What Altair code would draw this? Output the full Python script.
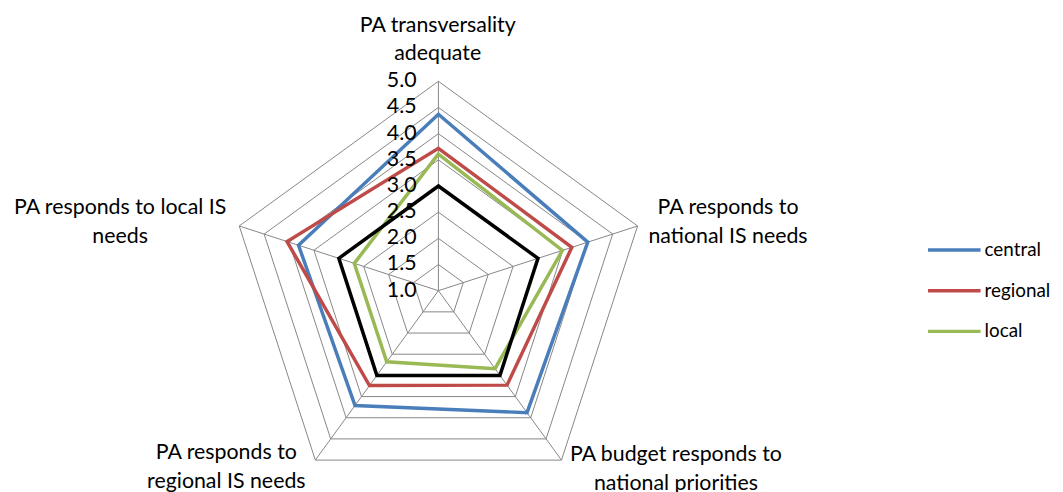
import altair as alt
import pandas as pd

# ---- data ----
categories = [
    "PA transversality adequate",
    "PA responds to national IS needs",
    "PA budget responds to national priorities",
    "PA responds to regional IS needs",
    "PA responds to local IS needs",
]
label_lines = [
    ["PA transversality", "adequate"],
    ["PA responds to", "national IS needs"],
    ["PA budget responds to", "national priorities"],
    ["PA responds to", "regional IS needs"],
    ["PA responds to local IS", "needs"],
]
series_names = ["central", "regional", "local"]
central = [4.37, 4.00, 3.88, 3.71, 3.81]
regional = [3.72, 3.68, 3.23, 3.24, 4.04]
local = [3.61, 3.49, 2.84, 2.68, 2.69]
reference = [3.0, 3.0, 3.0, 3.0, 3.0]
levels = [1.5, 2.0, 2.5, 3.0, 3.5, 4.0, 4.5, 5.0]
tick_labels = ["1.0", "1.5", "2.0", "2.5", "3.0", "3.5", "4.0", "4.5", "5.0"]

colors = ["#4A7EBB", "#BE4B48", "#98B954"]
FONT = "Lato"
FS = 21.5

# ---- layout ----
W, H = 1055, 484
PX = 52.75  # pixels per unit
cx_px, cy_px = 441.7 - 8, 291 - 8
xdom = [-cx_px / PX, (W - cx_px) / PX]
ydom = [-(H - cy_px) / PX, cy_px / PX]
MIN = 1.0
N = len(categories)

xs = alt.Scale(domain=xdom, nice=False, zero=False)
ys = alt.Scale(domain=ydom, nice=False, zero=False)
X = lambda f: alt.X(f, type="quantitative", scale=xs, axis=None)
Y = lambda f: alt.Y(f, type="quantitative", scale=ys, axis=None)

ang = f"datum.i * 2 * PI / {N}"
calc_x = f"(datum.v - {MIN}) * sin({ang})"
calc_y = f"(datum.v - {MIN}) * cos({ang})"

# grid rings
grid_df = pd.DataFrame([{"lvl": l, "i": i, "v": l} for l in levels for i in range(N)])
rings = alt.Chart(grid_df).mark_line(
    interpolate="linear-closed", color="#868686", strokeWidth=1
).transform_calculate(x=calc_x, y=calc_y).encode(
    x=X("x"), y=Y("y"), detail="lvl:N", order="i:Q"
)

# spokes
spoke_df = pd.DataFrame({"i": list(range(N)), "v": [max(levels)] * N})
spokes = alt.Chart(spoke_df).mark_rule(color="#868686", strokeWidth=1).transform_calculate(
    x=calc_x, y=calc_y, x0="0", y0="0"
).encode(x=X("x0"), y=Y("y0"), x2="x:Q", y2="y:Q")

# tick labels
tick_df = pd.DataFrame({"t": tick_labels, "v": [float(t) for t in tick_labels]})
ticks = alt.Chart(tick_df).mark_text(
    align="right", baseline="middle", dx=-22, font=FONT, fontSize=FS, color="#000000"
).transform_calculate(y=f"datum.v - {MIN}", x="0").encode(
    x=X("x"), y=Y("y"), text="t:N"
)

# series
rows = []
for name, vals in zip(series_names, [central, regional, local]):
    for i, v in enumerate(vals):
        rows.append({"s": name, "i": i, "v": v})
ser_df = pd.DataFrame(rows)
color_scale = alt.Scale(domain=series_names, range=colors)
series = alt.Chart(ser_df).mark_line(
    interpolate="linear-closed", strokeWidth=3.5
).transform_calculate(x=calc_x, y=calc_y).encode(
    x=X("x"), y=Y("y"),
    color=alt.Color("s:N", scale=color_scale, legend=None),
    detail="s:N", order="i:Q",
)

ref_df = pd.DataFrame({"i": list(range(N)), "v": reference})
ref = alt.Chart(ref_df).mark_line(
    interpolate="linear-closed", strokeWidth=3.5, color="#000000"
).transform_calculate(x=calc_x, y=calc_y).encode(x=X("x"), y=Y("y"), order="i:Q")

# category labels (first-line anchor in plot units)
def u(px_x, px_y):
    return ((px_x - 441.7) / PX, (291 - px_y) / PX)

label_pos = [u(441, 24), u(733.5, 208), u(681, 457), u(228, 455), u(121, 208)]
lab_df = pd.DataFrame({"c": categories, "lines": label_lines})
lab_df["lx"] = [p[0] for p in label_pos]
lab_df["ly"] = [p[1] for p in label_pos]
labels = alt.Chart(lab_df).mark_text(
    align="center", baseline="middle", font=FONT, fontSize=FS, lineHeight=28.5, color="#000000"
).encode(x=X("lx"), y=Y("ly"), text="lines")

# legend
leg_df = pd.DataFrame({"s": series_names, "k": list(range(len(series_names)))})
leg_x0, leg_x1, leg_top, leg_gap = (935 - 441.7) / PX, (988 - 441.7) / PX, (291 - 250) / PX, 41 / PX
leg_lines = alt.Chart(leg_df).mark_rule(strokeWidth=3.5).transform_calculate(
    x0=f"{leg_x0}", x1=f"{leg_x1}", y=f"{leg_top} - datum.k * {leg_gap}"
).encode(
    x=X("x0"), x2="x1:Q", y=Y("y"),
    color=alt.Color("s:N", scale=color_scale, legend=None),
)
leg_text = alt.Chart(leg_df).mark_text(
    align="left", baseline="middle", dx=4, font=FONT, fontSize=19, color="#000000"
).transform_calculate(
    x=f"{leg_x1}", y=f"{leg_top} - datum.k * {leg_gap}"
).encode(x=X("x"), y=Y("y"), text="s:N")

chart = alt.layer(rings, spokes, series, ref, ticks, labels, leg_lines, leg_text).properties(
    width=W, height=H, padding=0, autosize="none"
).configure_view(stroke=None)

chart.save("out.html", embed_options={"renderer": "svg", "actions": False})
